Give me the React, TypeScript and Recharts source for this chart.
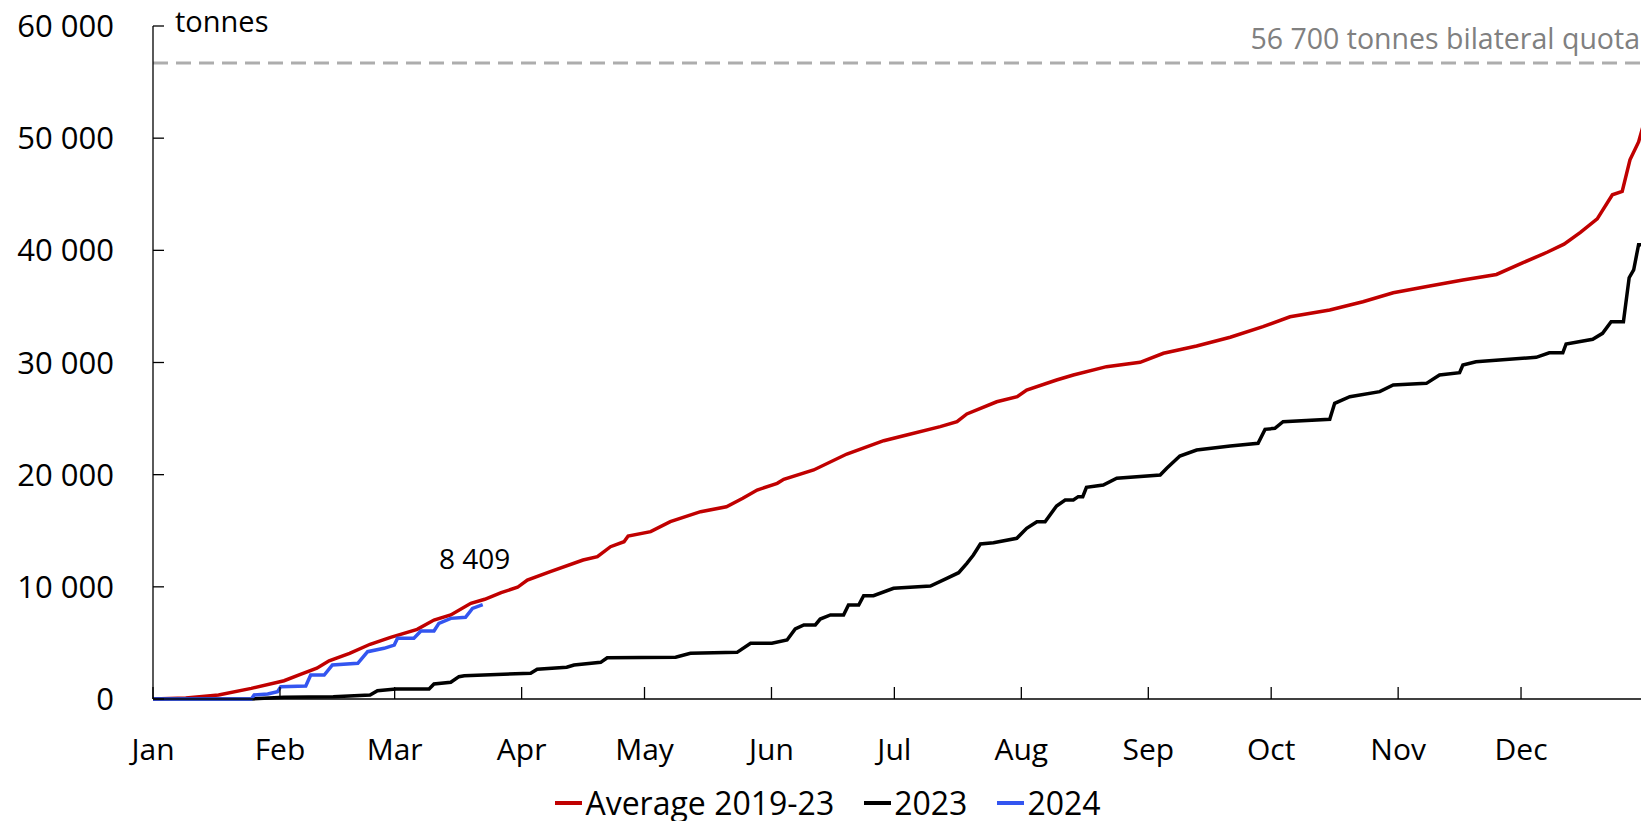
import React from 'react';
import { LineChart, Line, XAxis, YAxis, ReferenceLine, Legend, LabelList } from 'recharts';

// Day of year (0 = 1 Jan) and cumulative tonnes
const avgDays = [0, 8, 16, 24, 32, 36, 40, 43, 48, 53, 58, 64.5, 68.6, 72.7, 77.6, 81, 85, 89, 91.4, 97, 105, 108.5, 111.7, 115, 116, 121.5, 126.3, 133.7, 140, 144, 147.5, 152.4, 154, 161.3, 169.4, 178.4, 184, 192.2, 196.3, 198.7, 206, 211, 213.3, 220.6, 224.7, 232.8, 241, 246.7, 254.8, 263, 271, 277.6, 287.3, 295.4, 302.8, 311.7, 319.8, 328, 334.5, 340.5, 344.5, 348.5, 352.6, 356.3, 358.7, 360.6, 362.7, 363.9, 365];
const avgTonnes = [0, 90, 360, 950, 1630, 2200, 2740, 3410, 4070, 4880, 5500, 6210, 7040, 7490, 8530, 8890, 9480, 9960, 10610, 11350, 12390, 12690, 13580, 14020, 14530, 14920, 15810, 16700, 17140, 17890, 18630, 19230, 19590, 20420, 21840, 23030, 23540, 24280, 24720, 25410, 26500, 26950, 27550, 28440, 28890, 29630, 30020, 30820, 31470, 32250, 33190, 34080, 34680, 35420, 36220, 36820, 37350, 37850, 38900, 39850, 40550, 41600, 42800, 44950, 45250, 48070, 49660, 51210, 51300];

const days2023 = [0, 24, 32, 44, 53, 54.8, 59.3, 67.4, 68.6, 72.7, 74.7, 76, 92.2, 93.8, 101, 102.8, 109.3, 110.9, 127.6, 131.2, 142.6, 145.9, 151.1, 154.8, 156.8, 158.9, 161.7, 162.9, 165.4, 168.6, 169.8, 172.3, 173.5, 175.9, 180.8, 189.8, 193.8, 196.7, 198.7, 200.3, 202, 205.2, 210.9, 213.3, 215.8, 217.8, 220.6, 222.7, 224.7, 225.9, 227, 227.9, 232, 235.3, 245.9, 247.5, 250.7, 254.8, 263, 269.8, 271.5, 273.9, 275.9, 287.3, 288.5, 292.2, 299.5, 302.8, 310.9, 314.1, 319, 319.8, 323, 337.7, 340.9, 344.2, 345, 351.5, 353.9, 356, 359, 360.4, 361.5, 362.7, 365];
const tonnes2023 = [0, 0, 150, 200, 360, 740, 890, 890, 1340, 1490, 1990, 2080, 2290, 2650, 2830, 3030, 3270, 3680, 3720, 4070, 4160, 4970, 4970, 5260, 6240, 6600, 6600, 7130, 7490, 7490, 8380, 8380, 9210, 9210, 9870, 10070, 10760, 11260, 12100, 12840, 13820, 13930, 14330, 15220, 15810, 15810, 17210, 17740, 17740, 18040, 18040, 18870, 19080, 19680, 19970, 20570, 21660, 22200, 22560, 22800, 24040, 24130, 24720, 24930, 26360, 26950, 27400, 27990, 28140, 28880, 29090, 29780, 30070, 30460, 30870, 30870, 31650, 32070, 32600, 33640, 33640, 37560, 38250, 40500, 40500];

const days2024 = [0, 24, 24.7, 28, 30.4, 31.2, 37.3, 38.5, 41.8, 43.8, 50, 52.4, 56.4, 58.9, 59.7, 63.7, 65.4, 68.6, 69.8, 72.7, 76.3, 78, 80.5];
const tonnes2024 = [0, 0, 360, 450, 650, 1100, 1160, 2140, 2140, 3030, 3180, 4220, 4520, 4810, 5410, 5410, 6060, 6060, 6750, 7190, 7280, 8080, 8409];

const monthTicks = [0, 31, 59, 90, 120, 151, 181, 212, 243, 273, 304, 334, 365];
const monthLabels = ['Jan', 'Feb', 'Mar', 'Apr', 'May', 'Jun', 'Jul', 'Aug', 'Sep', 'Oct', 'Nov', 'Dec', ''];
const yTicks = [0, 10000, 20000, 30000, 40000, 50000, 60000];
const quotaTonnes = 56700;
const quotaLabel = '56 700 tonnes bilateral quota';
const unitLabel = 'tonnes';
const seriesNames = ['Average 2019-23', '2023', '2024'];

const COLORS = ['#C00000', '#000000', '#3355F0'];
const FONT = "'Open Sans', sans-serif";

const toPoints = (days: number[], tonnes: number[]) =>
  days.map((d, i) => ({ day: d, tonnes: tonnes[i] }));

const avgData = toPoints(avgDays, avgTonnes);
const data2023 = toPoints(days2023, tonnes2023);
const data2024 = toPoints(days2024, tonnes2024);

const fmt = (v: number) => String(v).replace(/\B(?=(\d{3})+(?!\d))/g, ' ');

const renderUnit = (props: any) => {
  const vb = props.viewBox || {};
  return (
    <text x={vb.x + vb.width + 22} y={vb.y + 6} fontSize={29} fontFamily={FONT} fill="#000">
      {unitLabel}
    </text>
  );
};

const renderQuota = (props: any) => {
  const vb = props.viewBox || {};
  return (
    <text x={vb.x + vb.width - 8} y={vb.y - 14} textAnchor="end" fontSize={28.5} fontFamily={FONT} fill="#808080">
      {quotaLabel}
    </text>
  );
};

const renderLast = (props: any) => {
  const { x, y, index, value } = props;
  if (index !== days2024.length - 1) return null;
  return (
    <text x={x - 8} y={y - 36} textAnchor="middle" fontSize={28} fontFamily={FONT} fill="#000">
      {fmt(value)}
    </text>
  );
};

const renderLegend = () => (
  <div
    style={{
      display: 'flex',
      justifyContent: 'center',
      alignItems: 'center',
      height: 36,
      lineHeight: '36px',
      fontFamily: FONT,
      fontSize: 32,
      color: '#000',
    }}
  >
    {seriesNames.map((n, i) => (
      <div key={n} style={{ display: 'flex', alignItems: 'center', marginLeft: i ? 30 : 0 }}>
        <span style={{ display: 'inline-block', width: 27, height: 4, background: COLORS[i], marginRight: 3 }} />
        <span>{n}</span>
      </div>
    ))}
  </div>
);

export default function App() {
  return (
    <div style={{ marginTop: -8 }}>
      <LineChart
        width={1641}
        height={821}
        margin={{ top: 26, right: 1, bottom: 0, left: 0 }}
        style={{ fontFamily: FONT }}
      >
        <XAxis
          type="number"
          dataKey="day"
          domain={[0, 365]}
          ticks={monthTicks}
          interval={0}
          allowDataOverflow
          height={86}
          tickSize={-12}
          tickMargin={52}
          tickFormatter={(v: number) => monthLabels[monthTicks.indexOf(v)]}
          axisLine={{ stroke: '#000', strokeWidth: 1.3 }}
          tickLine={{ stroke: '#000', strokeWidth: 1.3 }}
          tick={{ fill: '#000', fontSize: 30, fontFamily: FONT }}
        />
        <YAxis
          type="number"
          domain={[0, 60000]}
          ticks={yTicks}
          interval={0}
          width={145}
          tickSize={-11}
          tickMargin={50}
          tickFormatter={fmt}
          axisLine={{ stroke: '#000', strokeWidth: 1.3 }}
          tickLine={{ stroke: '#000', strokeWidth: 1.3 }}
          tick={{ fill: '#000', fontSize: 31, fontFamily: FONT }}
          label={renderUnit}
        />
        <ReferenceLine
          y={quotaTonnes}
          stroke="#ADADAD"
          strokeWidth={3}
          strokeDasharray="15 8"
          label={renderQuota}
        />
        <Line
          data={avgData}
          dataKey="tonnes"
          name={seriesNames[0]}
          type="linear"
          stroke={COLORS[0]}
          strokeWidth={3.5}
          dot={false}
          isAnimationActive={false}
        />
        <Line
          data={data2023}
          dataKey="tonnes"
          name={seriesNames[1]}
          type="linear"
          stroke={COLORS[1]}
          strokeWidth={3.5}
          dot={false}
          isAnimationActive={false}
        />
        <Line
          data={data2024}
          dataKey="tonnes"
          name={seriesNames[2]}
          type="linear"
          stroke={COLORS[2]}
          strokeWidth={3.5}
          dot={false}
          isAnimationActive={false}
        >
          <LabelList dataKey="tonnes" content={renderLast} />
        </Line>
        <Legend verticalAlign="bottom" height={36} content={renderLegend} />
      </LineChart>
    </div>
  );
}
